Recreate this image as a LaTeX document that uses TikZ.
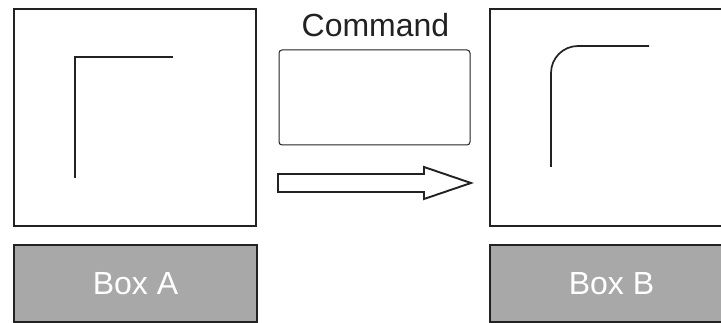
\documentclass[tikz,border=0pt]{standalone}
\usepackage{fontspec}
\setmainfont{Liberation Sans}
\usepackage{xcolor}
\definecolor{encre}{HTML}{222222}
\definecolor{grisboite}{HTML}{A8A8A8}

\begin{document}
\begin{tikzpicture}[x=1pt,y=-1pt,
    cadre/.style={draw=encre,line width=2pt,fill=white,inner sep=0pt,
      minimum width=242pt,minimum height=217pt},
    etiquette/.style={draw=encre,line width=2.2pt,fill=grisboite,text=white,
      inner sep=0pt,minimum width=243pt,minimum height=77pt,
      font=\fontsize{32}{36}\selectfont},
    trait/.style={draw=encre,line width=1.7pt}]
      \clip (0,0) rectangle (721,323);
      \def\haut{117.5}
      \def\bas{283.5}

      % Boites
      \node[cadre] (boxA) at (135,\haut) {};
      \node[etiquette] (etiqA) at (135.5,\bas) {Box A};
      \node[cadre] (boxB) at (611,\haut) {};
      \node[etiquette] (etiqB) at (611.5,\bas) {Box B};

      % Coins
      \draw[trait] (75,178) -- (75,57) -- (173,57);
      \draw[trait,rounded corners=27pt] (551,167) -- (551,46) -- (649,46);

      % Commande
      \node[draw=encre,line width=1pt,rounded corners=3pt,inner sep=0pt,
        minimum width=191pt,minimum height=95pt] (cmd) at (374.5,97.5) {};
      \node[anchor=base,text=encre,inner sep=0pt,
        font=\fontsize{32}{36}\selectfont] (titre) at (375.5,37) {Command};

      % Fleche
      \coordinate (F1) at (278,174);
      \coordinate (F2) at (471,183);
      \draw[encre,line width=1.9pt,fill=white,line join=miter]
        (F1) -- (424,174) -- (424,167) -- (F2) -- (424,199) -- (424,192)
        -- (278,192) -- cycle;
\end{tikzpicture}
\end{document}
